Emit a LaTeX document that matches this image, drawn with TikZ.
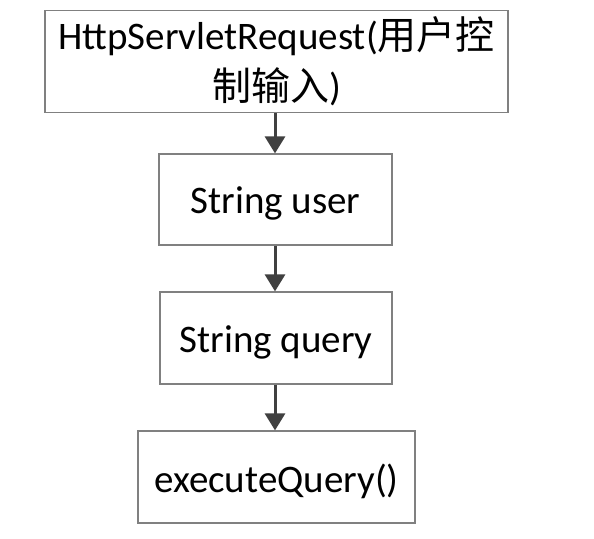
\documentclass[tikz,border=0pt]{standalone}
\usepackage{fontspec}
\setmainfont{Carlito}
\newfontfamily\cjk{Noto Sans CJK SC}
\usetikzlibrary{arrows.meta}
\definecolor{boxgray}{RGB}{128,128,128}
\definecolor{arrgray}{RGB}{64,64,64}
\newcommand{\lowertext}[2]{\raisebox{-#1}[\height][\depth]{#2}}
\tikzset{
  box/.style={draw=boxgray, line width=1.2pt, rectangle, inner sep=0pt, align=center,
    font=\fontsize{39}{51}\selectfont},
  arr/.style={draw=arrgray, line width=3pt, -{Triangle[width=20pt,length=17pt]}},
}
\begin{document}
\begin{tikzpicture}[x=1pt,y=1pt]
\useasboundingbox (0,0) rectangle (594,538);
\fill[white] (0,0) rectangle (594,538);
\node[box, minimum width=463pt, minimum height=93pt] (b1) at (276.5,476.5)
  {\lowertext{3pt}{\begin{tabular}{@{}c@{}}HttpServletRequest({\cjk 用户控}\\{\cjk 制输入})\end{tabular}}};
\node[box, minimum width=233pt, minimum height=91pt] (b2) at (275.5,338.5) {\lowertext{4pt}{String user}};
\node[box, minimum width=232pt, minimum height=92pt] (b3) at (276,200) {\lowertext{4pt}{String query}};
\node[box, minimum width=277pt, minimum height=92pt] (b4) at (276.5,61) {\lowertext{4pt}{executeQuery()}};
\draw[arr] (b1.south -| 275,0) -- (b2.north -| 275,0);
\draw[arr] (b2.south -| 275,0) -- (b3.north -| 275,0);
\draw[arr] (b3.south -| 275,0) -- (b4.north -| 275,0);
\end{tikzpicture}
\end{document}
